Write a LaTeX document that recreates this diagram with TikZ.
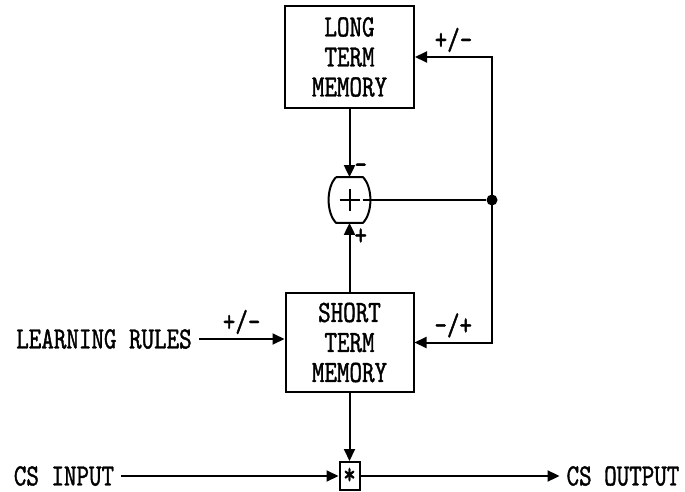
\documentclass[tikz,border=0pt]{standalone}
\usepackage{fontspec}
\usepackage{tikz}
\usetikzlibrary{positioning,arrows.meta}
\newfontfamily\dotmonofam{lmmono10-regular.otf}[FakeStretch=0.77, FakeBold=1.2]
\newcommand{\dotmono}{\dotmonofam\fontsize{15.5}{15}\selectfont}

\begin{document}
\begin{tikzpicture}[
  x=0.5pt, y=-0.5pt,
  font=\dotmono,
  box/.style={draw, line width=1pt, align=center, inner sep=0pt},
  sumj/.style={inner sep=0pt, minimum width=13pt, minimum height=22.5pt},
  mult/.style={draw, line width=1pt, inner sep=0pt, minimum width=10pt, minimum height=14pt},
  tap/.style={circle, fill, inner sep=0pt, minimum size=5.5pt},
  lbl/.style={inner sep=2pt},
  ln/.style={line width=1pt},
  arr/.style={ln, -{Triangle[length=6pt, width=5.5pt]}}]

\useasboundingbox (0,0) rectangle (685,492);

% memories
\node[box, minimum width=64.5pt, minimum height=51pt] (ltm) at (349.5,57) {LONG\\TERM\\MEMORY};
\node[box, minimum width=64pt, minimum height=49.5pt] (stm) at (349.5,342.5) {SHORT\\TERM\\MEMORY};

% summing junction
\node[sumj] (sum) at (349.5,200) {};
\draw[ln] (sum.north west) -- (sum.north east)
  .. controls +(10,10) and +(10,-10) .. (sum.south east) -- (sum.south west)
  .. controls +(-10,-10) and +(-10,10) .. (sum.north west);
\draw[ln] ([xshift=-5pt]sum.center) -- ([xshift=5pt]sum.center);
\draw[ln] ([yshift=5.5pt]sum.center) -- ([yshift=-5.5pt]sum.center);
\node[tap] (pick) at (492,200) {};

% inputs and outputs
\node (rules) at (104,339) {LEARNING RULES};
\node[mult] (mul) at (349.5,476) {*};
\node (csin) at (64,476) {CS INPUT};
\node (csout) at (623,476) {CS OUTPUT};

% connectors
\draw[arr] (ltm.south) -- (sum.north) node[lbl, pos=0.88, right] {-};
\draw[arr] (stm.north) -- (sum.south) node[lbl, pos=0.8, right] {+};
\draw[ln] (sum.east) -- (pick);
\draw[arr] (pick.center) |- (ltm.east) node[lbl, pos=0.75, above] {+/-};
\draw[arr] (pick.center) |- (stm.east) node[lbl, pos=0.75, above] {-/+};
\draw[arr] (rules.east) -- (stm.west|-rules.east) node[lbl, midway, above] {+/-};
\draw[arr] (stm.south) -- (mul.north);
\draw[arr] (csin.east) -- (mul.west);
\draw[arr] (mul.east) -- (csout.west);
\end{tikzpicture}
\end{document}
